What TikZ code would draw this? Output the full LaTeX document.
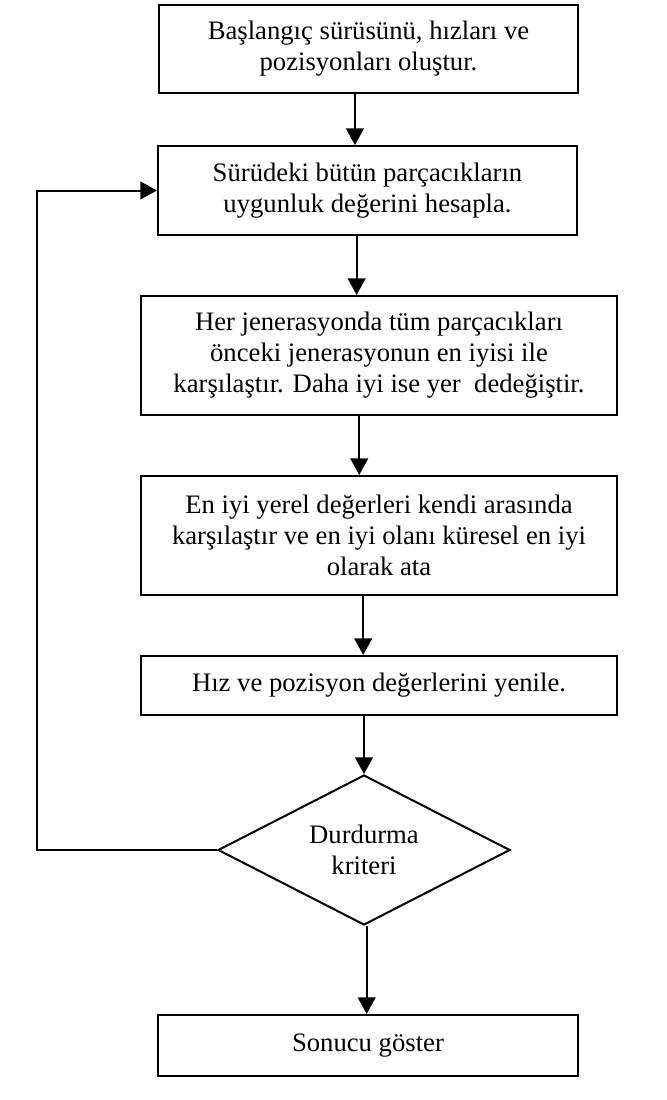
\documentclass[tikz,border=0pt]{standalone}
\usepackage{fontspec}
\setmainfont{Liberation Serif}
\usetikzlibrary{shapes.geometric,arrows.meta}

\begin{document}
\begin{tikzpicture}[x=0.45pt,y=-0.45pt,
		kutu/.style={draw, line width=0.9pt, inner sep=0pt, align=center, font=\fontsize{12}{14}\selectfont},
		karar/.style={draw, diamond, aspect=2, line width=0.9pt, inner sep=0pt, align=center, font=\fontsize{12}{14}\selectfont},
		ok/.style={-{Triangle[width=8pt,length=7.5pt]}, line width=0.9pt}]
					\useasboundingbox (0,0) rectangle (666,1100);
					\node[kutu, minimum width=188.6pt, minimum height=39.6pt] (basla) at (368.5,49) {Başlangıç sürüsünü, hızları ve\\pozisyonları oluştur.};
					\node[kutu, minimum width=188.6pt, minimum height=40pt] (uygun) at (367.5,190.5) {Sürüdeki bütün parçacıkların\\uygunluk değerini hesapla.};
					\node[kutu, minimum width=214.2pt, minimum height=53.6pt] (jener) at (379,355.5) {Her jenerasyonda tüm parçacıkları\\önceki jenerasyonun en iyisi ile\\karşılaştır. Daha iyi ise yer\ \ dedeğiştir.};
					\node[kutu, minimum width=214.2pt, minimum height=53.6pt] (yerel) at (379,535.5) {En iyi yerel değerleri kendi arasında\\karşılaştır ve en iyi olanı küresel en iyi\\olarak ata};
					\node[kutu, minimum width=214.2pt, minimum height=26.6pt] (hiz) at (379,685.5) {Hız ve pozisyon değerlerini yenile.};
					\node[karar, minimum width=131.4pt, minimum height=67.5pt] (dur) at (364,850) {Durdurma\\kriteri};
					\node[kutu, minimum width=189pt, minimum height=27.5pt] (sonuc) at (368,1045.5) {Sonucu göster};
					% oklar
					\draw[ok] ([xshift=-6.1pt]basla.south) -- ([xshift=-6.1pt]basla.south |- uygun.north);
					\draw[ok] ([xshift=-4.9pt]uygun.south) -- ([xshift=-4.9pt]uygun.south |- jener.north);
					\draw[ok] ([xshift=-8.9pt]jener.south) -- ([xshift=-8.9pt]jener.south |- yerel.north);
					\draw[ok] ([xshift=-7.1pt]yerel.south) -- ([xshift=-7.1pt]yerel.south |- hiz.north);
					\draw[ok] (dur.north |- hiz.south) -- (dur.north);
					\draw[ok] ([xshift=1.2pt]dur.south) -- ([xshift=1.2pt]dur.south |- sonuc.north);
					\draw[ok] (dur.west) -- ++(-180,0) |- (uygun.west);
				\end{tikzpicture}
\end{document}
